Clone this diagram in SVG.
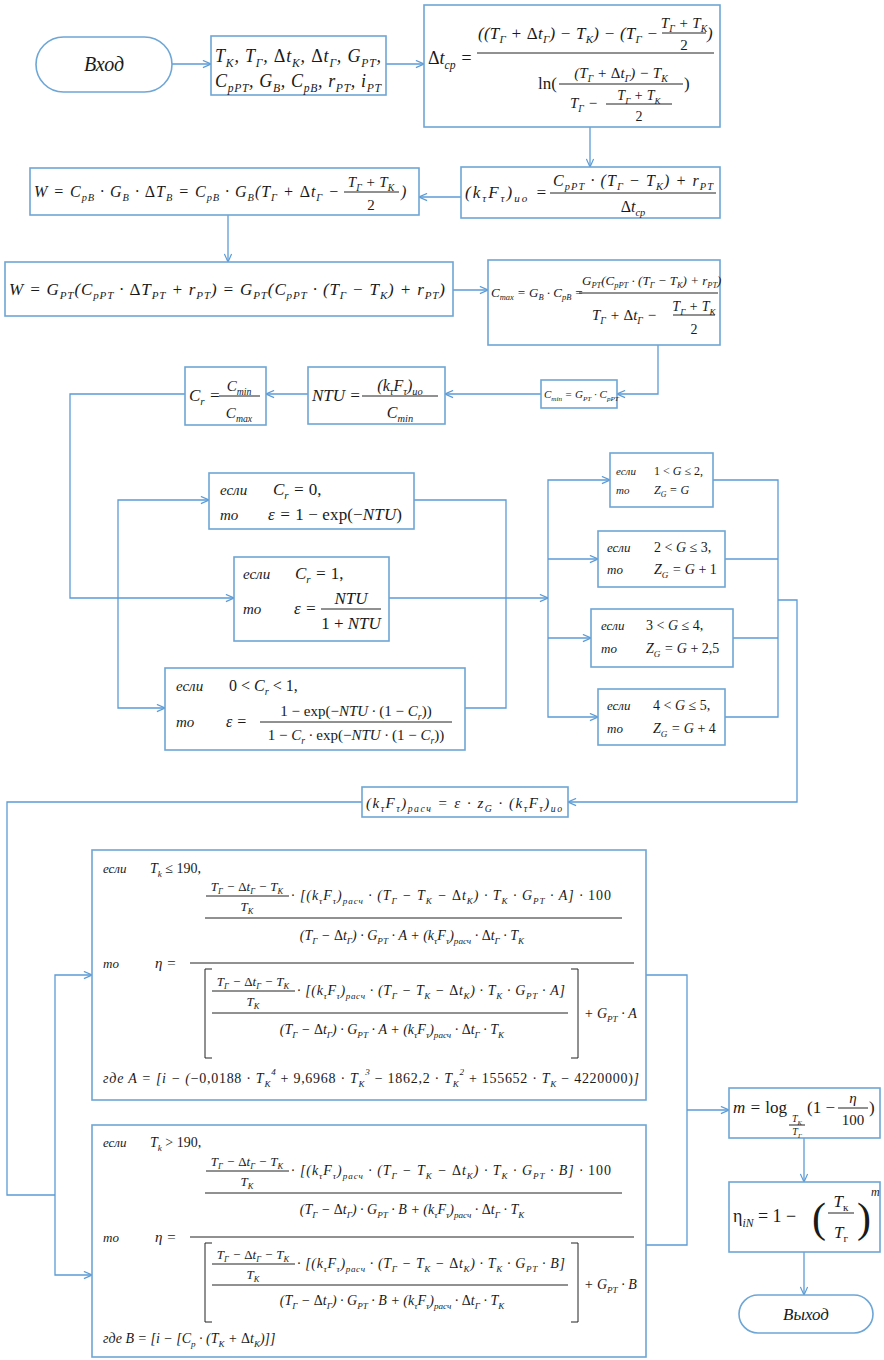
<svg xmlns="http://www.w3.org/2000/svg" width="884" height="1360" viewBox="0 0 884 1360">
<defs>
<style>
.n{fill:#fff;stroke:#6ea6d6;stroke-width:1.6}
.c{fill:none;stroke:#5b9bd5;stroke-width:1.3}
.fl{stroke:#222;stroke-width:1}
text{font-family:"Liberation Serif","Times New Roman",serif;font-style:italic;fill:#1a1a1a}
.u{font-style:normal}
.s{font-size:65%;baseline-shift:-0.4em}
.p{font-size:65%;baseline-shift:0.9em}
.f20{font-size:20px}.f18{font-size:18px}.f17{font-size:17px}.f16{font-size:16px}.f15{font-size:15px}.f14{font-size:14px}.f13{font-size:13px}.f12{font-size:12px}.f11{font-size:11px}.f10{font-size:10px}
.m{text-anchor:middle}
</style>
<marker id="a" viewBox="0 0 10 10" refX="10" refY="5" markerWidth="9" markerHeight="9" orient="auto" markerUnits="userSpaceOnUse"><path d="M1,1 L10,5 L1,9" fill="none" stroke="#5b9bd5" stroke-width="1.3"/></marker>
</defs>
<rect width="884" height="1360" fill="#fff"/>

<g id="connectors">
<path class="c" d="M172,64 H211" marker-end="url(#a)"/>
<path class="c" d="M386,64 H424" marker-end="url(#a)"/>
<path class="c" d="M590,127 V167" marker-end="url(#a)"/>
<path class="c" d="M461,197 H419" marker-end="url(#a)"/>
<path class="c" d="M228,215 V262" marker-end="url(#a)"/>
<path class="c" d="M453,290 H488" marker-end="url(#a)"/>
<path class="c" d="M658,345 V394 H617" marker-end="url(#a)"/>
<path class="c" d="M541,394 H445" marker-end="url(#a)"/>
<path class="c" d="M308,394 H266" marker-end="url(#a)"/>
<path class="c" d="M185,394 H70 V598 H234" marker-end="url(#a)"/>
<path class="c" d="M118,598 V500 H209" marker-end="url(#a)"/>
<path class="c" d="M118,598 V708 H165" marker-end="url(#a)"/>
<path class="c" d="M414,500 H506 V708 H465"/>
<path class="c" d="M389,598 H548" marker-end="url(#a)"/>
<path class="c" d="M548,598 V480 H610" marker-end="url(#a)"/>
<path class="c" d="M548,598 V717 H598" marker-end="url(#a)"/>
<path class="c" d="M548,559 H598" marker-end="url(#a)"/>
<path class="c" d="M548,638 H591" marker-end="url(#a)"/>
<path class="c" d="M713,480 H778 V717 H725"/>
<path class="c" d="M725,559 H778"/>
<path class="c" d="M733,638 H778"/>
<path class="c" d="M778,600 H797 V802 H568" marker-end="url(#a)"/>
<path class="c" d="M362,802 H7 V1195 H55"/>
<path class="c" d="M55,1195 V975 H92" marker-end="url(#a)"/>
<path class="c" d="M55,1195 V1275 H92" marker-end="url(#a)"/>
<path class="c" d="M646,975 H687 V1245 H646"/>
<path class="c" d="M687,1110 H729" marker-end="url(#a)"/>
<path class="c" d="M804,1138 V1182" marker-end="url(#a)"/>
<path class="c" d="M804,1252 V1295" marker-end="url(#a)"/>
</g>

<g id="start">
<rect class="n" x="36" y="37" width="136" height="55" rx="27.5"/>
<text class="f20 m" x="104" y="71">Вход</text>
</g>

<g id="inputs">
<rect class="n" x="211" y="36" width="175" height="59"/>
<text class="f18" x="215" y="62" textLength="166">T<tspan class="s">К</tspan>, T<tspan class="s">Г</tspan>, <tspan class="u">Δ</tspan>t<tspan class="s">К</tspan>, <tspan class="u">Δ</tspan>t<tspan class="s">Г</tspan>, G<tspan class="s">РТ</tspan>,</text>
<text class="f18" x="215" y="87" textLength="166">C<tspan class="s">рРТ</tspan>, G<tspan class="s">В</tspan>, C<tspan class="s">рВ</tspan>, r<tspan class="s">РТ</tspan>, i<tspan class="s">РТ</tspan></text>
</g>

<g id="dtcp">
<rect class="n" x="424" y="5" width="296" height="122"/>
<text class="f18" x="428" y="64"><tspan class="u">Δ</tspan>t<tspan class="s">ср</tspan> =</text>
<text class="f17" x="478" y="39" textLength="180">((T<tspan class="s">Г</tspan> + <tspan class="u">Δ</tspan>t<tspan class="s">Г</tspan>) − T<tspan class="s">К</tspan>) − (T<tspan class="s">Г</tspan> −</text>
<text class="f15 m" x="684" y="28">T<tspan class="s">Г</tspan> + T<tspan class="s">К</tspan></text>
<line class="fl" x1="662" y1="33" x2="706" y2="33"/>
<text class="f15 m u" x="684" y="50">2</text>
<text class="f17" x="707" y="39">)</text>
<line class="fl" x1="477" y1="53" x2="714" y2="53"/>
<text class="f17 u" x="538" y="89">ln(</text>
<text class="f15 m" x="621" y="78">(T<tspan class="s">Г</tspan> + <tspan class="u">Δ</tspan>t<tspan class="s">Г</tspan>) − T<tspan class="s">К</tspan></text>
<line class="fl" x1="559" y1="84" x2="683" y2="84"/>
<text class="f15" x="570" y="108">T<tspan class="s">Г</tspan> −</text>
<text class="f14 m" x="639" y="100">T<tspan class="s">Г</tspan> + T<tspan class="s">К</tspan></text>
<line class="fl" x1="606" y1="104" x2="672" y2="104"/>
<text class="f14 m u" x="639" y="121">2</text>
<text class="f17 u" x="684" y="89">)</text>
</g>

<g id="kfio">
<rect class="n" x="461" y="167" width="259" height="51"/>
<text class="f17" x="465" y="198" textLength="82">(k<tspan class="s">τ</tspan>F<tspan class="s">τ</tspan>)<tspan class="s">ио</tspan> =</text>
<text class="f16" x="553" y="186" textLength="160">C<tspan class="s">рРТ</tspan> · (T<tspan class="s">Г</tspan> − T<tspan class="s">К</tspan>) + r<tspan class="s">РТ</tspan></text>
<line class="fl" x1="550" y1="193" x2="716" y2="193"/>
<text class="f16 m" x="633" y="212"><tspan class="u">Δ</tspan>t<tspan class="s">ср</tspan></text>
</g>

<g id="w1">
<rect class="n" x="30" y="168" width="389" height="47"/>
<text class="f16" x="34" y="197" textLength="305">W = C<tspan class="s">рВ</tspan> · G<tspan class="s">В</tspan> · <tspan class="u">Δ</tspan>T<tspan class="s">В</tspan> = C<tspan class="s">рВ</tspan> · G<tspan class="s">В</tspan>(T<tspan class="s">Г</tspan> + <tspan class="u">Δ</tspan>t<tspan class="s">Г</tspan> −</text>
<text class="f15 m" x="371" y="187">T<tspan class="s">Г</tspan> + T<tspan class="s">К</tspan></text>
<line class="fl" x1="344" y1="192" x2="399" y2="192"/>
<text class="f15 m u" x="371" y="210">2</text>
<text class="f16" x="401" y="197">)</text>
</g>

<g id="w2">
<rect class="n" x="5" y="262" width="448" height="54"/>
<text class="f17" x="9" y="295" textLength="436">W = G<tspan class="s">РТ</tspan>(C<tspan class="s">рРТ</tspan> · <tspan class="u">Δ</tspan>T<tspan class="s">РТ</tspan> + r<tspan class="s">РТ</tspan>) = G<tspan class="s">РТ</tspan>(C<tspan class="s">рРТ</tspan> · (T<tspan class="s">Г</tspan> − T<tspan class="s">К</tspan>) + r<tspan class="s">РТ</tspan>)</text>
</g>

<g id="cmax">
<rect class="n" x="488" y="260" width="232" height="85"/>
<text class="f13" x="491" y="297">C<tspan class="s">max</tspan> = G<tspan class="s">В</tspan> · C<tspan class="s">рВ</tspan> =</text>
<text class="f13" x="582" y="285">G<tspan class="s">РТ</tspan>(C<tspan class="s">рРТ</tspan> · (T<tspan class="s">Г</tspan> − T<tspan class="s">К</tspan>) + r<tspan class="s">РТ</tspan>)</text>
<line class="fl" x1="579" y1="293" x2="718" y2="293"/>
<text class="f15" x="592" y="320">T<tspan class="s">Г</tspan> + <tspan class="u">Δ</tspan>t<tspan class="s">Г</tspan> −</text>
<text class="f14 m" x="694" y="311">T<tspan class="s">Г</tspan> + T<tspan class="s">К</tspan></text>
<line class="fl" x1="673" y1="315" x2="715" y2="315"/>
<text class="f14 m u" x="694" y="334">2</text>
</g>

<g id="cmin">
<rect class="n" x="541" y="380" width="76" height="28"/>
<text class="f11" x="544" y="398">C<tspan class="s">min</tspan> = G<tspan class="s">РТ</tspan> · C<tspan class="s">рРТ</tspan></text>
</g>

<g id="ntu">
<rect class="n" x="308" y="367" width="137" height="57"/>
<text class="f17" x="312" y="401">NTU =</text>
<text class="f16 m" x="400" y="391">(k<tspan class="s">τ</tspan>F<tspan class="s">τ</tspan>)<tspan class="s">ио</tspan></text>
<line class="fl" x1="362" y1="396" x2="438" y2="396"/>
<text class="f16 m" x="400" y="418">C<tspan class="s">min</tspan></text>
</g>

<g id="cr">
<rect class="n" x="185" y="367" width="81" height="58"/>
<text class="f17" x="189" y="401">C<tspan class="s">r</tspan> =</text>
<text class="f15 m" x="239" y="391">C<tspan class="s">min</tspan></text>
<line class="fl" x1="219" y1="396" x2="260" y2="396"/>
<text class="f15 m" x="239" y="418">C<tspan class="s">max</tspan></text>
</g>

<g id="eps0">
<rect class="n" x="209" y="473" width="205" height="56"/>
<text class="f15" x="220" y="495">если</text>
<text class="f17" x="273" y="495">C<tspan class="s">r</tspan> = <tspan class="u">0,</tspan></text>
<text class="f15" x="220" y="520">то</text>
<text class="f17" x="268" y="520" textLength="134">ε = <tspan class="u">1 − exp(−</tspan>NTU<tspan class="u">)</tspan></text>
</g>

<g id="eps1">
<rect class="n" x="234" y="557" width="155" height="84"/>
<text class="f15" x="243" y="579">если</text>
<text class="f17" x="295" y="579">C<tspan class="s">r</tspan> = <tspan class="u">1,</tspan></text>
<text class="f15" x="243" y="614">то</text>
<text class="f17" x="294" y="614">ε =</text>
<text class="f17 m" x="351" y="604">NTU</text>
<line class="fl" x1="321" y1="609" x2="381" y2="609"/>
<text class="f17 m" x="351" y="629"><tspan class="u">1 + </tspan>NTU</text>
</g>

<g id="eps2">
<rect class="n" x="165" y="668" width="300" height="82"/>
<text class="f15" x="176" y="691">если</text>
<text class="f16" x="229" y="691"><tspan class="u">0 &lt; </tspan>C<tspan class="s">r</tspan> <tspan class="u">&lt; 1,</tspan></text>
<text class="f15" x="176" y="727">то</text>
<text class="f16" x="226" y="727">ε =</text>
<text class="f15 m" x="356" y="716"><tspan class="u">1 − exp(−</tspan>NTU · <tspan class="u">(1 − </tspan>C<tspan class="s">r</tspan><tspan class="u">))</tspan></text>
<line class="fl" x1="260" y1="722" x2="452" y2="722"/>
<text class="f15 m" x="356" y="740"><tspan class="u">1 − </tspan>C<tspan class="s">r</tspan> · <tspan class="u">exp(−</tspan>NTU · <tspan class="u">(1 − </tspan>C<tspan class="s">r</tspan><tspan class="u">))</tspan></text>
</g>

<g id="z1">
<rect class="n" x="610" y="453" width="103" height="54"/>
<text class="f11" x="616" y="475">если</text>
<text class="f12" x="654" y="475"><tspan class="u">1 &lt; </tspan>G <tspan class="u">≤ 2,</tspan></text>
<text class="f11" x="616" y="494">то</text>
<text class="f12" x="654" y="494">Z<tspan class="s">G</tspan> = G</text>
</g>

<g id="z2">
<rect class="n" x="598" y="531" width="127" height="56"/>
<text class="f13" x="607" y="552">если</text>
<text class="f14" x="654" y="552"><tspan class="u">2 &lt; </tspan>G <tspan class="u">≤ 3,</tspan></text>
<text class="f13" x="607" y="574">то</text>
<text class="f14" x="654" y="574">Z<tspan class="s">G</tspan> = G <tspan class="u">+ 1</tspan></text>
</g>

<g id="z3">
<rect class="n" x="591" y="609" width="142" height="58"/>
<text class="f13" x="601" y="630">если</text>
<text class="f14" x="646" y="630"><tspan class="u">3 &lt; </tspan>G <tspan class="u">≤ 4,</tspan></text>
<text class="f13" x="601" y="653">то</text>
<text class="f14" x="646" y="653">Z<tspan class="s">G</tspan> = G <tspan class="u">+ 2,5</tspan></text>
</g>

<g id="z4">
<rect class="n" x="598" y="689" width="127" height="56"/>
<text class="f13" x="607" y="710">если</text>
<text class="f14" x="653" y="710"><tspan class="u">4 &lt; </tspan>G <tspan class="u">≤ 5,</tspan></text>
<text class="f13" x="607" y="733">то</text>
<text class="f14" x="653" y="733">Z<tspan class="s">G</tspan> = G <tspan class="u">+ 4</tspan></text>
</g>

<g id="kfcalc">
<rect class="n" x="362" y="787" width="206" height="30"/>
<text class="f15" x="366" y="808" textLength="196">(k<tspan class="s">τ</tspan>F<tspan class="s">τ</tspan>)<tspan class="s">расч</tspan> = ε · z<tspan class="s">G</tspan> · (k<tspan class="s">τ</tspan>F<tspan class="s">τ</tspan>)<tspan class="s">ио</tspan></text>
</g>

<g id="eta1">
<rect class="n" x="92" y="850" width="554" height="250"/>
<text class="f13" x="103" y="873">если</text>
<text class="f14" x="150" y="873">T<tspan class="s">k</tspan> <tspan class="u">≤ 190,</tspan></text>
<text class="f13 m" x="247" y="891">T<tspan class="s">Г</tspan> − <tspan class="u">Δ</tspan>t<tspan class="s">Г</tspan> − T<tspan class="s">К</tspan></text>
<line class="fl" x1="206" y1="896" x2="289" y2="896"/>
<text class="f13 m" x="247" y="911">T<tspan class="s">К</tspan></text>
<text class="f14" x="291" y="900" textLength="320">· [(k<tspan class="s">τ</tspan>F<tspan class="s">τ</tspan>)<tspan class="s">расч</tspan> · (T<tspan class="s">Г</tspan> − T<tspan class="s">К</tspan> − <tspan class="u">Δ</tspan>t<tspan class="s">К</tspan>) · T<tspan class="s">К</tspan> · G<tspan class="s">РТ</tspan> · A] · <tspan class="u">100</tspan></text>
<line class="fl" x1="205" y1="918" x2="622" y2="918"/>
<text class="f14 m" x="412" y="940">(T<tspan class="s">Г</tspan> − <tspan class="u">Δ</tspan>t<tspan class="s">Г</tspan>) · G<tspan class="s">РТ</tspan> · A + (k<tspan class="s">τ</tspan>F<tspan class="s">τ</tspan>)<tspan class="s">расч</tspan> · <tspan class="u">Δ</tspan>t<tspan class="s">Г</tspan> · T<tspan class="s">К</tspan></text>
<text class="f13" x="103" y="968">то</text>
<text class="f15" x="155" y="968">η =</text>
<line class="fl" x1="190" y1="963" x2="634" y2="963"/>
<path d="M212,969 H205 V1058 H212 M571,969 H578 V1058 H571" fill="none" stroke="#222" stroke-width="1"/>
<text class="f13 m" x="253" y="986">T<tspan class="s">Г</tspan> − <tspan class="u">Δ</tspan>t<tspan class="s">Г</tspan> − T<tspan class="s">К</tspan></text>
<line class="fl" x1="212" y1="991" x2="295" y2="991"/>
<text class="f13 m" x="253" y="1006">T<tspan class="s">К</tspan></text>
<text class="f14" x="297" y="995" textLength="268">· [(k<tspan class="s">τ</tspan>F<tspan class="s">τ</tspan>)<tspan class="s">расч</tspan> · (T<tspan class="s">Г</tspan> − T<tspan class="s">К</tspan> − <tspan class="u">Δ</tspan>t<tspan class="s">К</tspan>) · T<tspan class="s">К</tspan> · G<tspan class="s">РТ</tspan> · A]</text>
<line class="fl" x1="212" y1="1013" x2="568" y2="1013"/>
<text class="f14 m" x="392" y="1034">(T<tspan class="s">Г</tspan> − <tspan class="u">Δ</tspan>t<tspan class="s">Г</tspan>) · G<tspan class="s">РТ</tspan> · A + (k<tspan class="s">τ</tspan>F<tspan class="s">τ</tspan>)<tspan class="s">расч</tspan> · <tspan class="u">Δ</tspan>t<tspan class="s">Г</tspan> · T<tspan class="s">К</tspan></text>
<text class="f14" x="584" y="1018">+ G<tspan class="s">РТ</tspan> · A</text>
<text class="f14" x="103" y="1083" textLength="536">где A = [i − (<tspan class="u">−0,0188 · </tspan>T<tspan class="s">К</tspan><tspan class="p">4</tspan> <tspan class="u">+ 9,6968 · </tspan>T<tspan class="s">К</tspan><tspan class="p">3</tspan> <tspan class="u">− 1862,2 · </tspan>T<tspan class="s">К</tspan><tspan class="p">2</tspan> <tspan class="u">+ 155652 · </tspan>T<tspan class="s">К</tspan> <tspan class="u">− 4220000)</tspan>]</text>
</g>

<g id="eta2">
<rect class="n" x="92" y="1125" width="554" height="232"/>
<text class="f13" x="103" y="1147">если</text>
<text class="f14" x="150" y="1147">T<tspan class="s">k</tspan> <tspan class="u">&gt; 190,</tspan></text>
<text class="f13 m" x="247" y="1166">T<tspan class="s">Г</tspan> − <tspan class="u">Δ</tspan>t<tspan class="s">Г</tspan> − T<tspan class="s">К</tspan></text>
<line class="fl" x1="206" y1="1171" x2="289" y2="1171"/>
<text class="f13 m" x="247" y="1186">T<tspan class="s">К</tspan></text>
<text class="f14" x="291" y="1175" textLength="320">· [(k<tspan class="s">τ</tspan>F<tspan class="s">τ</tspan>)<tspan class="s">расч</tspan> · (T<tspan class="s">Г</tspan> − T<tspan class="s">К</tspan> − <tspan class="u">Δ</tspan>t<tspan class="s">К</tspan>) · T<tspan class="s">К</tspan> · G<tspan class="s">РТ</tspan> · B] · <tspan class="u">100</tspan></text>
<line class="fl" x1="205" y1="1193" x2="622" y2="1193"/>
<text class="f14 m" x="412" y="1214">(T<tspan class="s">Г</tspan> − <tspan class="u">Δ</tspan>t<tspan class="s">Г</tspan>) · G<tspan class="s">РТ</tspan> · B + (k<tspan class="s">τ</tspan>F<tspan class="s">τ</tspan>)<tspan class="s">расч</tspan> · <tspan class="u">Δ</tspan>t<tspan class="s">Г</tspan> · T<tspan class="s">К</tspan></text>
<text class="f13" x="103" y="1242">то</text>
<text class="f15" x="155" y="1242">η =</text>
<line class="fl" x1="190" y1="1237" x2="634" y2="1237"/>
<path d="M212,1243 H205 V1322 H212 M571,1243 H578 V1322 H571" fill="none" stroke="#222" stroke-width="1"/>
<text class="f13 m" x="253" y="1259">T<tspan class="s">Г</tspan> − <tspan class="u">Δ</tspan>t<tspan class="s">Г</tspan> − T<tspan class="s">К</tspan></text>
<line class="fl" x1="212" y1="1264" x2="295" y2="1264"/>
<text class="f13 m" x="253" y="1279">T<tspan class="s">К</tspan></text>
<text class="f14" x="297" y="1268" textLength="268">· [(k<tspan class="s">τ</tspan>F<tspan class="s">τ</tspan>)<tspan class="s">расч</tspan> · (T<tspan class="s">Г</tspan> − T<tspan class="s">К</tspan> − <tspan class="u">Δ</tspan>t<tspan class="s">К</tspan>) · T<tspan class="s">К</tspan> · G<tspan class="s">РТ</tspan> · B]</text>
<line class="fl" x1="212" y1="1285" x2="568" y2="1285"/>
<text class="f14 m" x="392" y="1305">(T<tspan class="s">Г</tspan> − <tspan class="u">Δ</tspan>t<tspan class="s">Г</tspan>) · G<tspan class="s">РТ</tspan> · B + (k<tspan class="s">τ</tspan>F<tspan class="s">τ</tspan>)<tspan class="s">расч</tspan> · <tspan class="u">Δ</tspan>t<tspan class="s">Г</tspan> · T<tspan class="s">К</tspan></text>
<text class="f14" x="584" y="1289">+ G<tspan class="s">РТ</tspan> · B</text>
<text class="f14" x="103" y="1343">где B = [i − [C<tspan class="s">р</tspan> · (T<tspan class="s">К</tspan> + <tspan class="u">Δ</tspan>t<tspan class="s">К</tspan>)]]</text>
</g>

<g id="mlog">
<rect class="n" x="729" y="1088" width="151" height="50"/>
<text class="f17" x="733" y="1113">m = <tspan class="u">log</tspan></text>
<text class="f10 m" x="797" y="1122">T<tspan class="s">К</tspan></text>
<line class="fl" x1="789" y1="1125" x2="805" y2="1125"/>
<text class="f10 m" x="797" y="1135">T<tspan class="s">Г</tspan></text>
<text class="f17 u" x="807" y="1113">(1 −</text>
<text class="f15 m" x="853" y="1103">η</text>
<line class="fl" x1="838" y1="1108" x2="868" y2="1108"/>
<text class="f15 m u" x="853" y="1125">100</text>
<text class="f17 u" x="869" y="1113">)</text>
</g>

<g id="etaiN">
<rect class="n" x="729" y="1182" width="151" height="70"/>
<text class="f18 u" x="733" y="1222">η<tspan class="s" style="font-style:italic">iN</tspan> = 1 −</text>
<text class="u" x="812" y="1232" style="font-size:42px">(</text>
<text class="u" x="857" y="1232" style="font-size:42px">)</text>
<text class="f17 m" x="841" y="1207">T<tspan class="s u">к</tspan></text>
<line class="fl" x1="828" y1="1213" x2="854" y2="1213"/>
<text class="f17 m" x="841" y="1238">T<tspan class="s u">г</tspan></text>
<text class="f12" x="871" y="1196">m</text>
</g>

<g id="end">
<rect class="n" x="739" y="1295" width="134" height="38" rx="19"/>
<text class="f17 m" x="806" y="1320">Выход</text>
</g>
</svg>
